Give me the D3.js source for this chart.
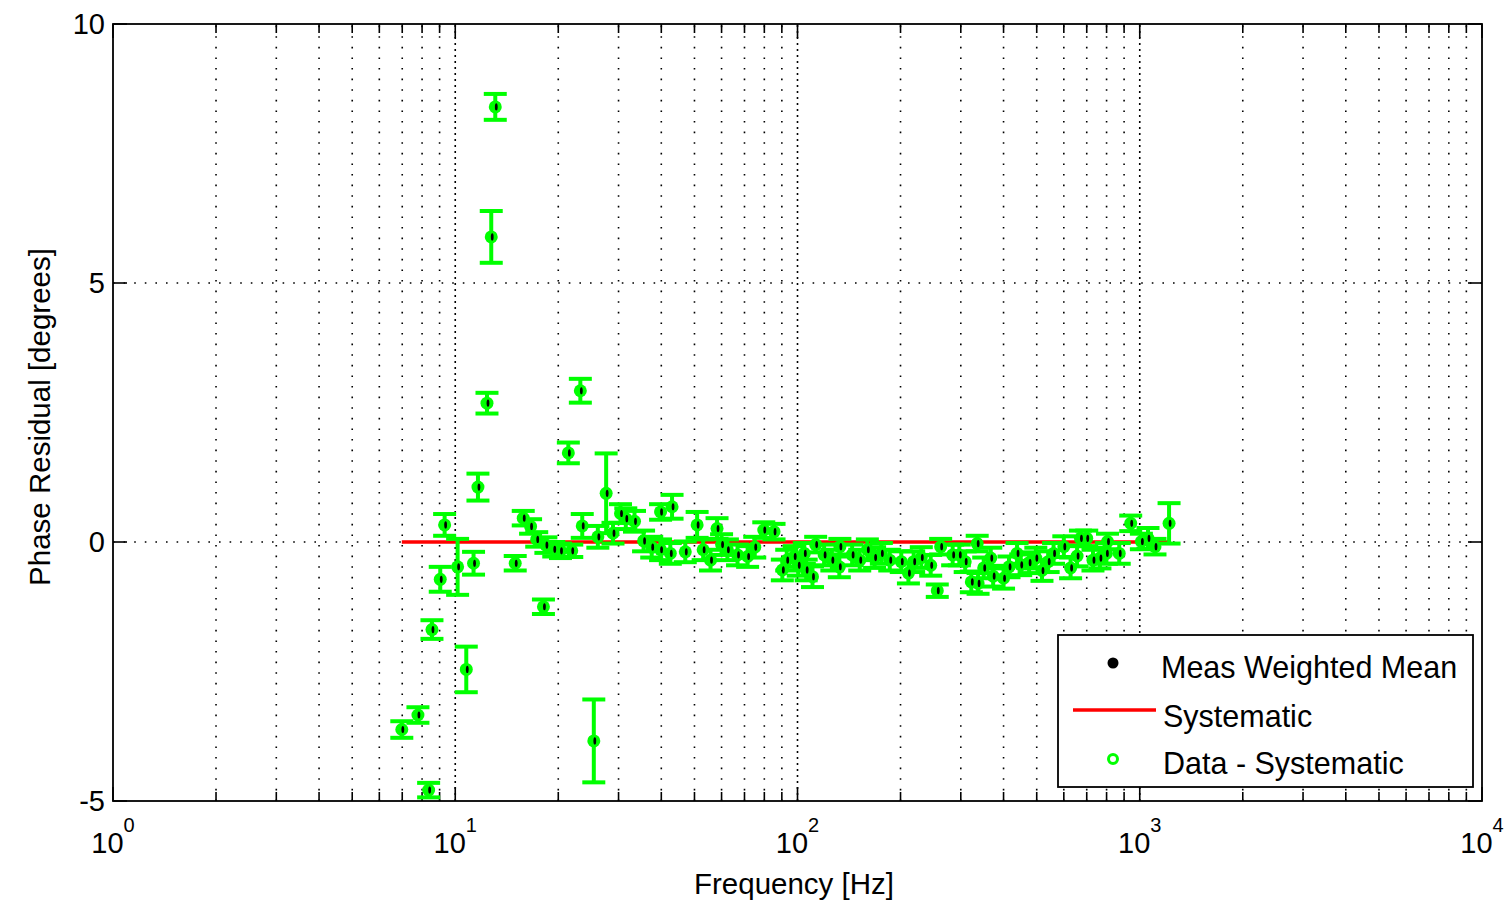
<!DOCTYPE html>
<html><head><meta charset="utf-8">
<script src="https://cdn.jsdelivr.net/npm/d3@7"></script>
<style>
body{margin:0;background:#fff;overflow:hidden}
text{font-family:"Liberation Sans",Arial,Helvetica,sans-serif;fill:#000}
</style>
</head><body>
<svg id="c" width="1509" height="905"></svg>
<script>
// ---- data ----
const freq = [6.98,7.78,8.36,8.55,9.04,9.31,10.16,10.77,11.31,11.65,12.38,12.74,13.09,14.97,15.8,16.6,17.3,18.1,18.4,19.4,20.3,21.4,21.9,23.2,23.5,25.4,26.1,27.6,28.9,30.4,31.5,33.4,35.5,37.5,39.8,39.8,42.5,43.0,47.0,50.9,53.0,55.7,58.2,60,62.4,66.8,71.5,75,79.7,85.4,90.3,93,97.8,100.5,104.7,106,110.6,113,119.6,126,132.5,133,144.4,152,160,168,175.8,186,201,210.9,218.5,230,245,256.1,262,284,297,309,322,335,337,350,367,373,400,415,438,449,475,497,518,540,560,600,628,656,671,700,730,765,799,805,871,941,1011,1057,1108,1218];
const resid = [-3.62,-3.34,-4.79,-1.69,-0.72,0.33,-0.48,-2.46,-0.41,1.06,2.68,5.89,8.40,-0.41,0.46,0.30,0.05,-1.25,-0.06,-0.14,-0.17,1.72,-0.17,2.92,0.31,-3.84,0.10,0.94,0.17,0.55,0.45,0.40,0.02,-0.10,0.58,-0.15,-0.22,0.68,-0.19,0.33,-0.15,-0.35,0.26,-0.05,-0.15,-0.25,-0.28,-0.10,0.23,0.20,-0.54,-0.35,-0.28,-0.45,-0.22,-0.54,-0.67,-0.05,-0.25,-0.35,-0.48,-0.09,-0.25,-0.35,-0.15,-0.30,-0.22,-0.35,-0.38,-0.60,-0.38,-0.30,-0.45,-0.94,-0.09,-0.25,-0.25,-0.38,-0.77,-0.03,-0.80,-0.50,-0.31,-0.66,-0.70,-0.48,-0.22,-0.44,-0.40,-0.31,-0.55,-0.38,-0.22,-0.09,-0.50,-0.27,0.07,0.07,-0.35,-0.31,-0.22,0.01,-0.22,0.36,0.01,0.07,-0.09,0.36];
const err = [0.16,0.15,0.14,0.18,0.24,0.21,0.54,0.44,0.22,0.26,0.20,0.50,0.25,0.14,0.14,0.14,0.14,0.14,0.15,0.14,0.14,0.20,0.12,0.23,0.23,0.80,0.21,0.77,0.20,0.18,0.20,0.20,0.20,0.20,0.15,0.20,0.20,0.23,0.20,0.25,0.20,0.20,0.20,0.20,0.20,0.20,0.20,0.20,0.15,0.15,0.20,0.20,0.20,0.20,0.20,0.20,0.20,0.15,0.20,0.20,0.20,0.15,0.20,0.20,0.20,0.20,0.20,0.20,0.20,0.20,0.20,0.20,0.20,0.12,0.15,0.20,0.20,0.20,0.20,0.15,0.20,0.20,0.20,0.20,0.20,0.20,0.20,0.20,0.20,0.20,0.20,0.20,0.20,0.20,0.20,0.20,0.15,0.15,0.20,0.20,0.20,0.15,0.20,0.15,0.15,0.20,0.15,0.39];
const sysFreq = [6.98, 1218];
const sysVal = [0, 0];
const yTicks = [-5, 0, 5, 10];
const xDecades = [0, 1, 2, 3, 4];
const legendLabels = ["Meas Weighted Mean", "Systematic", "Data - Systematic"];
const xLabel = "Frequency [Hz]";
const yLabel = "Phase Residual [degrees]";

// ---- layout ----
const L = 113, R = 1482, T = 24, B = 801;
const svg = d3.select("#c");
const x = d3.scaleLog().domain([1, 1e4]).range([L, R]);
const y = d3.scaleLinear().domain([-5, 10]).range([B, T]);

svg.append("rect").attr("width",1509).attr("height",905).attr("fill","#fff");
svg.append("defs").append("clipPath").attr("id","pa")
  .append("rect").attr("x",L).attr("y",T).attr("width",R-L).attr("height",B-T);

const minor = [];
for (let d = 0; d < 4; d++) for (let k = 2; k <= 9; k++) minor.push(k * Math.pow(10, d));
const majors = xDecades.map(e => Math.pow(10, e));

// grid
const g = svg.append("g");
g.selectAll(".gm").data(minor).enter().append("line")
  .attr("x1", d => x(d)).attr("x2", d => x(d)).attr("y1", B).attr("y2", T)
  .attr("stroke","#000").attr("stroke-width",1.6).attr("stroke-dasharray","1.6,9");
g.selectAll(".gM").data(majors.slice(1,4)).enter().append("line")
  .attr("x1", d => x(d)).attr("x2", d => x(d)).attr("y1", B).attr("y2", T)
  .attr("stroke","#000").attr("stroke-width",1.6).attr("stroke-dasharray","2,4");
g.selectAll(".gy").data(yTicks.filter(v => v > -5 && v < 10)).enter().append("line")
  .attr("x1", L).attr("x2", R).attr("y1", d => y(d)).attr("y2", d => y(d))
  .attr("stroke","#000").attr("stroke-width",1.6).attr("stroke-dasharray","1.6,9");

// ticks (inward, both sides)
const tk = svg.append("g").attr("stroke","#000").attr("stroke-width",1.6);
minor.forEach(v => {
  tk.append("line").attr("x1",x(v)).attr("x2",x(v)).attr("y1",B).attr("y2",B-9);
  tk.append("line").attr("x1",x(v)).attr("x2",x(v)).attr("y1",T).attr("y2",T+9);
});
majors.forEach(v => {
  tk.append("line").attr("x1",x(v)).attr("x2",x(v)).attr("y1",B).attr("y2",B-14);
  tk.append("line").attr("x1",x(v)).attr("x2",x(v)).attr("y1",T).attr("y2",T+14);
});
yTicks.forEach(v => {
  tk.append("line").attr("x1",L).attr("x2",L+14).attr("y1",y(v)).attr("y2",y(v));
  tk.append("line").attr("x1",R).attr("x2",R-14).attr("y1",y(v)).attr("y2",y(v));
});

// data layer
const p = svg.append("g").attr("clip-path","url(#pa)");
p.append("path").datum(sysFreq.map((f,i)=>[f,sysVal[i]]))
  .attr("d", d3.line().x(d=>x(d[0])).y(d=>y(d[1])))
  .attr("stroke","#ff0000").attr("stroke-width",3.5).attr("fill","none");

const pts = freq.map((f,i)=>({f, v:resid[i], e:err[i]}));
const cap = 11.5;
const eb = p.append("g").attr("stroke","#00ff00").attr("stroke-width",4);
pts.forEach(d => {
  const cx = x(d.f), y1 = y(d.v + d.e), y2 = y(d.v - d.e);
  eb.append("line").attr("x1",cx).attr("x2",cx).attr("y1",y1).attr("y2",y2);
  eb.append("line").attr("x1",cx-cap).attr("x2",cx+cap).attr("y1",y1).attr("y2",y1);
  eb.append("line").attr("x1",cx-cap).attr("x2",cx+cap).attr("y1",y2).attr("y2",y2);
});
p.append("g").selectAll("circle").data(pts).enter().append("circle")
  .attr("cx", d=>x(d.f)).attr("cy", d=>y(d.v)).attr("r",6.5).attr("fill","#00ff00");
p.append("g").selectAll("ellipse").data(pts).enter().append("ellipse")
  .attr("cx", d=>x(d.f)+1).attr("cy", d=>y(d.v)).attr("rx",1.4).attr("ry",3.6).attr("fill","#000");

// box
svg.append("rect").attr("x",L).attr("y",T).attr("width",R-L).attr("height",B-T)
  .attr("fill","none").attr("stroke","#000").attr("stroke-width",1.8);

// tick labels
yTicks.forEach(v => {
  svg.append("text").attr("x",105).attr("y",y(v)).attr("dy","0.36em")
    .attr("text-anchor","end").attr("font-size",29).text(v);
});
xDecades.forEach(e => {
  const t = svg.append("text").attr("x", x(Math.pow(10,e))).attr("y",853)
    .attr("text-anchor","middle").attr("font-size",29);
  t.append("tspan").text("10");
  t.append("tspan").attr("dy",-21).attr("font-size",20).text(e);
});

// axis labels
svg.append("text").attr("x",794).attr("y",894).attr("text-anchor","middle")
  .attr("font-size",29.5).text(xLabel);
svg.append("text").attr("transform","translate(50,417) rotate(-90)")
  .attr("text-anchor","middle").attr("font-size",29.5).text(yLabel);

// legend
const lg = svg.append("g");
lg.append("rect").attr("x",1058).attr("y",635).attr("width",415).attr("height",152)
  .attr("fill","#fff").attr("stroke","#000").attr("stroke-width",1.8);
lg.append("circle").attr("cx",1113).attr("cy",663).attr("r",5.5).attr("fill","#000");
lg.append("line").attr("x1",1073).attr("x2",1156).attr("y1",710).attr("y2",710)
  .attr("stroke","#ff0000").attr("stroke-width",3.5);
lg.append("circle").attr("cx",1113).attr("cy",759).attr("r",4.5).attr("fill","none")
  .attr("stroke","#00ff00").attr("stroke-width",3);
const ly = [678, 727, 774], lx = [1161, 1163, 1163];
legendLabels.forEach((s,i) => {
  lg.append("text").attr("x",lx[i]).attr("y",ly[i]).attr("font-size",30.5).text(s);
});
</script>
</body></html>
